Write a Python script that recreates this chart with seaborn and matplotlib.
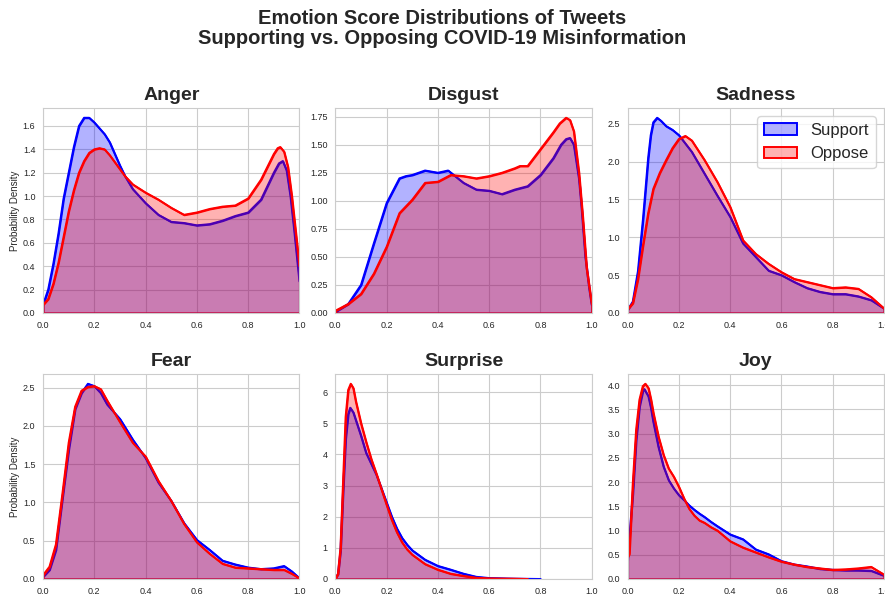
import matplotlib
matplotlib.use("Agg")
import matplotlib.pyplot as plt
from matplotlib.ticker import MultipleLocator
import seaborn as sns

emotions = ["Anger", "Disgust", "Sadness", "Fear", "Surprise", "Joy"]
series_names = ["Support", "Oppose"]

# ---- Anger ----
anger_x_support = [0.0, 0.02, 0.04, 0.06, 0.08, 0.1, 0.12, 0.14, 0.16, 0.18, 0.2, 0.22, 0.24, 0.26, 0.28, 0.3, 0.32, 0.35, 0.4, 0.45, 0.5, 0.55, 0.6, 0.65, 0.7, 0.75, 0.8, 0.85, 0.9, 0.92, 0.935, 0.95, 0.965, 0.98, 1.0]
anger_y_support = [0.07, 0.20, 0.42, 0.68, 0.98, 1.20, 1.42, 1.60, 1.67, 1.67, 1.63, 1.58, 1.53, 1.46, 1.36, 1.26, 1.17, 1.06, 0.94, 0.84, 0.78, 0.77, 0.75, 0.76, 0.79, 0.83, 0.86, 0.97, 1.20, 1.28, 1.30, 1.22, 1.00, 0.70, 0.27]
anger_x_oppose = [0.0, 0.02, 0.04, 0.06, 0.08, 0.1, 0.12, 0.14, 0.16, 0.18, 0.2, 0.22, 0.24, 0.26, 0.28, 0.3, 0.32, 0.35, 0.4, 0.45, 0.5, 0.55, 0.6, 0.65, 0.7, 0.75, 0.8, 0.85, 0.9, 0.915, 0.925, 0.94, 0.955, 0.97, 0.985, 1.0]
anger_y_oppose = [0.07, 0.12, 0.25, 0.43, 0.65, 0.87, 1.05, 1.20, 1.30, 1.37, 1.40, 1.41, 1.40, 1.35, 1.29, 1.23, 1.17, 1.10, 1.03, 0.97, 0.90, 0.84, 0.86, 0.89, 0.91, 0.92, 0.98, 1.14, 1.36, 1.41, 1.42, 1.38, 1.25, 1.00, 0.70, 0.40]

# ---- Disgust ----
disgust_x_support = [0.0, 0.05, 0.1, 0.15, 0.2, 0.25, 0.275, 0.3, 0.35, 0.4, 0.44, 0.5, 0.55, 0.6, 0.65, 0.7, 0.75, 0.8, 0.85, 0.88, 0.9, 0.915, 0.93, 0.95, 0.96, 0.975, 0.99, 1.0]
disgust_y_support = [0.01, 0.08, 0.25, 0.62, 0.98, 1.20, 1.22, 1.23, 1.27, 1.25, 1.27, 1.16, 1.10, 1.09, 1.06, 1.10, 1.13, 1.23, 1.38, 1.50, 1.55, 1.56, 1.50, 1.20, 0.95, 0.50, 0.22, 0.07]
disgust_x_oppose = [0.0, 0.05, 0.1, 0.15, 0.2, 0.25, 0.3, 0.35, 0.4, 0.45, 0.5, 0.55, 0.6, 0.65, 0.7, 0.72, 0.75, 0.8, 0.85, 0.875, 0.9, 0.915, 0.93, 0.95, 0.965, 0.98, 1.0]
disgust_y_oppose = [0.02, 0.08, 0.17, 0.35, 0.59, 0.89, 1.01, 1.16, 1.17, 1.23, 1.22, 1.20, 1.22, 1.25, 1.29, 1.31, 1.31, 1.46, 1.61, 1.69, 1.74, 1.72, 1.62, 1.25, 0.85, 0.40, 0.08]

# ---- Sadness ----
sadness_x_support = [0.0, 0.02, 0.04, 0.06, 0.08, 0.09, 0.1, 0.115, 0.13, 0.15, 0.175, 0.2, 0.25, 0.3, 0.35, 0.4, 0.45, 0.5, 0.55, 0.6, 0.65, 0.7, 0.75, 0.8, 0.85, 0.9, 0.95, 1.0]
sadness_y_support = [0.04, 0.15, 0.55, 1.25, 2.05, 2.35, 2.52, 2.58, 2.54, 2.47, 2.42, 2.35, 2.13, 1.84, 1.55, 1.27, 0.92, 0.74, 0.56, 0.50, 0.41, 0.33, 0.28, 0.25, 0.25, 0.22, 0.17, 0.06]
sadness_x_oppose = [0.0, 0.02, 0.04, 0.06, 0.08, 0.1, 0.125, 0.15, 0.175, 0.2, 0.225, 0.25, 0.3, 0.35, 0.4, 0.45, 0.5, 0.55, 0.6, 0.65, 0.7, 0.75, 0.8, 0.85, 0.9, 0.95, 1.0]
sadness_y_oppose = [0.05, 0.13, 0.45, 0.90, 1.32, 1.64, 1.85, 2.02, 2.18, 2.30, 2.34, 2.28, 2.02, 1.73, 1.40, 0.96, 0.78, 0.65, 0.54, 0.45, 0.41, 0.37, 0.33, 0.34, 0.32, 0.21, 0.06]

# ---- Fear ----
fear_x = [0.0, 0.025, 0.05, 0.075, 0.1, 0.125, 0.15, 0.175, 0.2, 0.225, 0.25, 0.3, 0.35, 0.4, 0.45, 0.5, 0.55, 0.6, 0.65, 0.7, 0.75, 0.8, 0.85, 0.9, 0.94, 0.97, 1.0]
fear_y_support = [0.03, 0.12, 0.38, 1.04, 1.69, 2.22, 2.43, 2.55, 2.52, 2.43, 2.28, 2.09, 1.82, 1.58, 1.26, 1.02, 0.73, 0.51, 0.38, 0.24, 0.19, 0.15, 0.13, 0.14, 0.17, 0.10, 0.01]
fear_y_oppose = [0.05, 0.16, 0.45, 1.10, 1.78, 2.25, 2.46, 2.51, 2.52, 2.48, 2.33, 2.05, 1.78, 1.60, 1.28, 1.02, 0.72, 0.48, 0.33, 0.20, 0.15, 0.14, 0.13, 0.12, 0.12, 0.07, 0.01]

# ---- Surprise ----
surprise_x_support = [0.0, 0.01, 0.02, 0.03, 0.04, 0.05, 0.058, 0.07, 0.08, 0.1, 0.12, 0.14, 0.16, 0.18, 0.2, 0.22, 0.24, 0.26, 0.28, 0.3, 0.35, 0.4, 0.45, 0.5, 0.55, 0.6, 0.7, 0.8]
surprise_y_support = [0.03, 0.15, 0.90, 2.80, 4.50, 5.30, 5.50, 5.35, 5.10, 4.60, 4.05, 3.70, 3.35, 2.90, 2.45, 2.00, 1.62, 1.32, 1.10, 0.92, 0.62, 0.42, 0.30, 0.17, 0.07, 0.03, 0.01, 0.0]
surprise_x_oppose = [0.0, 0.01, 0.02, 0.03, 0.04, 0.05, 0.06, 0.07, 0.08, 0.1, 0.12, 0.14, 0.16, 0.18, 0.2, 0.22, 0.24, 0.26, 0.28, 0.3, 0.35, 0.4, 0.45, 0.5, 0.55, 0.6, 0.7, 0.75]
surprise_y_oppose = [0.02, 0.16, 1.00, 3.10, 5.20, 6.07, 6.27, 6.13, 5.70, 5.00, 4.40, 3.85, 3.38, 2.88, 2.38, 1.90, 1.50, 1.18, 0.95, 0.78, 0.48, 0.30, 0.17, 0.10, 0.04, 0.02, 0.01, 0.0]

# ---- Joy ----
joy_x_support = [0.0, 0.02, 0.033, 0.046, 0.059, 0.065, 0.081, 0.091, 0.1, 0.12, 0.14, 0.16, 0.18, 0.2, 0.22, 0.24, 0.26, 0.28, 0.3, 0.325, 0.35, 0.4, 0.45, 0.5, 0.55, 0.6, 0.65, 0.7, 0.75, 0.8, 0.85, 0.9, 0.95, 1.0]
joy_y_support = [0.38, 1.76, 2.87, 3.56, 3.88, 3.92, 3.77, 3.53, 3.25, 2.73, 2.32, 2.04, 1.87, 1.73, 1.63, 1.52, 1.43, 1.35, 1.28, 1.18, 1.09, 0.92, 0.82, 0.61, 0.51, 0.37, 0.30, 0.26, 0.21, 0.19, 0.18, 0.18, 0.17, 0.07]
joy_x_oppose = [0.0, 0.0065, 0.02, 0.033, 0.046, 0.059, 0.069, 0.081, 0.091, 0.1, 0.12, 0.14, 0.16, 0.18, 0.2, 0.22, 0.24, 0.26, 0.28, 0.3, 0.325, 0.35, 0.4, 0.45, 0.5, 0.55, 0.6, 0.65, 0.7, 0.75, 0.8, 0.85, 0.9, 0.95, 1.0]
joy_y_oppose = [0.45, 0.52, 1.97, 3.08, 3.70, 3.98, 4.03, 3.94, 3.70, 3.43, 2.94, 2.56, 2.28, 2.11, 1.90, 1.66, 1.45, 1.31, 1.21, 1.16, 1.07, 1.00, 0.78, 0.65, 0.55, 0.45, 0.36, 0.30, 0.25, 0.22, 0.19, 0.20, 0.22, 0.25, 0.09]

curves = {
    "Anger": ((anger_x_support, anger_y_support), (anger_x_oppose, anger_y_oppose)),
    "Disgust": ((disgust_x_support, disgust_y_support), (disgust_x_oppose, disgust_y_oppose)),
    "Sadness": ((sadness_x_support, sadness_y_support), (sadness_x_oppose, sadness_y_oppose)),
    "Fear": ((fear_x, fear_y_support), (fear_x, fear_y_oppose)),
    "Surprise": ((surprise_x_support, surprise_y_support), (surprise_x_oppose, surprise_y_oppose)),
    "Joy": ((joy_x_support, joy_y_support), (joy_x_oppose, joy_y_oppose)),
}
y_steps = {"Anger": 0.2, "Disgust": 0.25, "Sadness": 0.5, "Fear": 0.5, "Surprise": 1, "Joy": 0.5}
x_ticks = [0.0, 0.2, 0.4, 0.6, 0.8, 1.0]

sns.set_style("whitegrid")
plt.rcParams["font.family"] = ["Liberation Sans", "DejaVu Sans"]

colors = {"Support": "blue", "Oppose": "red"}
face = {"Support": (0, 0, 1, 0.3), "Oppose": (1, 0, 0, 0.3)}

fig, axes = plt.subplots(2, 3, figsize=(8.85, 5.98), dpi=100)
fig.subplots_adjust(left=0.0486, right=0.9989, bottom=0.0318, top=0.8194, wspace=0.14, hspace=0.2976)

for idx, (ax, emo) in enumerate(zip(axes.flat, emotions)):
    z = 2.0
    for name, (xs, ys) in zip(series_names, curves[emo]):
        ax.fill_between(xs, 0, ys, facecolor=face[name], edgecolor=colors[name],
                        linewidth=1.4, label=name, zorder=z)
        sns.lineplot(x=xs, y=ys, ax=ax, color=colors[name], linewidth=1.4,
                     zorder=z + 0.1, legend=False)
        z += 0.2
    ax.set_xlim(0, 1)
    ax.set_ylim(bottom=0)
    ax.set_xticks(x_ticks)
    ax.yaxis.set_major_locator(MultipleLocator(y_steps[emo]))
    ax.tick_params(axis="both", labelsize=6.5, pad=2)
    ax.set_title(emo, fontsize=14, fontweight="bold", pad=6)
    if idx % 3 == 0:
        ax.set_ylabel("Probability Density", fontsize=7, labelpad=2)
    else:
        ax.set_ylabel("")
    if emo == "Sadness":
        ax.legend(loc="upper right", fontsize=12)
    else:
        leg = ax.get_legend()
        if leg is not None:
            leg.remove()

fig.suptitle("Emotion Score Distributions of Tweets\nSupporting vs. Opposing COVID-19 Misinformation",
             fontsize=14.5, fontweight="bold", y=0.985, linespacing=1.1)

fig.savefig("out.png", dpi=100)
